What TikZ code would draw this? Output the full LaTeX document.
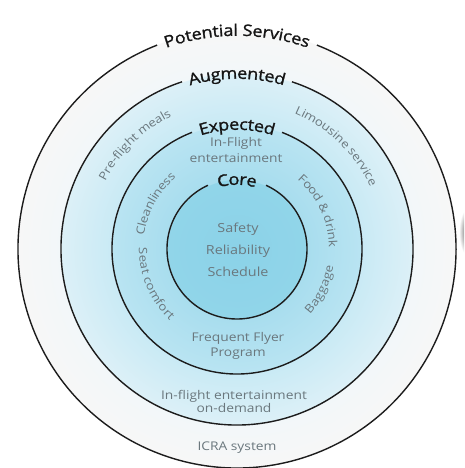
\documentclass[tikz,border=0pt]{standalone}
\usepackage{fontspec}
\setmainfont[FakeStretch=1.15]{Open Sans}
\newfontfamily\titlefamily[FakeStretch=1.13, FakeBold=1.3]{Open Sans}
\usetikzlibrary{decorations.text}

\definecolor{ringline}{HTML}{1C1C1C}
\definecolor{ringtext}{HTML}{151515}
\definecolor{labelgray}{HTML}{6A777D}
\definecolor{coreA}{HTML}{8BD2E8}
\definecolor{coreB}{HTML}{91D5E9}
\definecolor{expA}{HTML}{A8DDEE}
\definecolor{expB}{HTML}{B9E4F2}
\definecolor{augA}{HTML}{C9EAF5}
\definecolor{augB}{HTML}{DCF0F7}
\definecolor{outA}{HTML}{F2F7F9}
\definecolor{outB}{HTML}{F7F7F7}

% radial fill of the four rings (25bp = outer radius)
\pgfdeclareradialshading{ringshade}{\pgfpoint{0bp}{0bp}}{%
  color(0bp)=(coreA); color(7.95bp)=(coreB);
  color(8.0bp)=(expA); color(14.2bp)=(expB);
  color(14.3bp)=(augA); color(20.05bp)=(augB);
  color(20.1bp)=(outA); color(25bp)=(outB); color(50bp)=(outB)}

\newcommand\ringfont{\titlefamily\fontsize{16}{19}\selectfont\color{ringtext}}
\newcommand\arcfont{\fontsize{11.5}{13}\selectfont\color{labelgray}}

\begin{document}
\begin{tikzpicture}[x=1pt,y=1pt,
  ring/.style={draw=ringline, line width=1.4pt},
  inner/.style={align=center, text=labelgray, inner sep=0pt},
  ringlabel/.style={decorate, decoration={text along path, text align=center, raise=-5.8pt, text={|\ringfont|#1}}},
  arclabel/.style={decorate, decoration={text along path, text align=center, raise=-3pt, text={|\arcfont|#1}}},
]
\useasboundingbox (0,0) rectangle (464,468);
\fill[white] (0,0) rectangle (464,468);
\coordinate (c) at (237,219);

% filled rings
\shade[shading=ringshade] (c) circle (219);

% dark smudge at the right border
\begin{scope}
  \clip (0,0) rectangle (464,468);
  \shade[inner color=black!85, outer color=white, opacity=0.8] (468,236) ellipse (9 and 24);
\end{scope}

% ring outlines, each with a gap for its title
\draw[ring] (c) ++(111.4:219) arc (111.4:428.6:219);
\draw[ring] (c) ++(108.2:176) arc (108.2:431.8:176);
\draw[ring] (c) ++(111.1:125) arc (111.1:428.9:125);
\draw[ring] (c) ++(114.5:70) arc (114.5:425.5:70);

% ring titles
\path[ringlabel={Potential Services}] (c) ++(140:219) arc (140:40:219);
\path[ringlabel={Augmented}] (c) ++(140:176) arc (140:40:176);
\path[ringlabel={Expected}] (c) ++(140:125) arc (140:40:125);
\path[ringlabel={Core}] (c) ++(145:70) arc (145:35:70);

% curved items
\path[arclabel={Pre-flight meals}] (c) ++(170:151) arc (170:99:151);
\path[arclabel={Limousine service}] (c) ++(82:150) arc (82:10:150);
\path[arclabel={Cleanliness}] (c) ++(191:97) arc (191:111:97);
\path[arclabel={Food {\&} drink}] (c) ++(65:95) arc (65:-15:95);
\path[arclabel={Seat comfort}] (c) ++(160:95) arc (160:246:95);
\path[arclabel={Baggage}] (c) ++(294:95) arc (294:374:95);

% straight items
\node[inner, font=\fontsize{12}{15.5}\selectfont] (inflight) at (236,318) {In-Flight\\entertainment};
\node[inner, font=\fontsize{12.5}{22}\selectfont] (basics) at (238,218) {Safety\\Reliability\\Schedule};
\node[inner, font=\fontsize{12}{14.5}\selectfont] (ffp) at (238,122) {Frequent Flyer\\Program};
\node[inner, font=\fontsize{12}{13.5}\selectfont] (ondemand) at (234,66.5) {In-flight entertainment\\on-demand};
\node[inner, font=\fontsize{12}{14}\selectfont] (icra) at (237,20) {ICRA system};
\end{tikzpicture}
\end{document}
